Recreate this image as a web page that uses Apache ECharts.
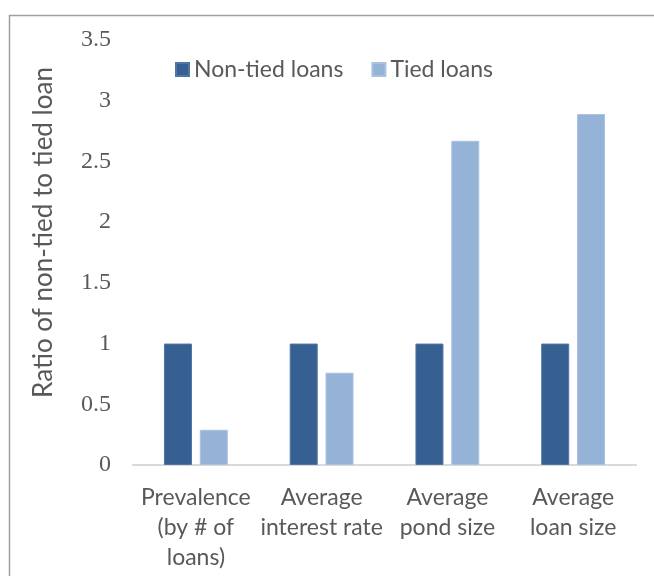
<!DOCTYPE html>
<html>
<head>
<meta charset="utf-8">
<script src="https://cdn.jsdelivr.net/npm/echarts@6/dist/echarts.min.js"></script>
<style>html,body{margin:0;padding:0;background:#fff;}#c{width:654px;height:576px;}</style>
</head>
<body>
<div id="c"></div>
<script>
const categories = ['Prevalence\n(by # of\nloans)', 'Average\ninterest rate', 'Average\npond size', 'Average\nloan size'];
const nonTied = [1, 1, 1, 1];
const tied = [0.29, 0.76, 2.67, 2.89];
const seriesNames = ['Non-tied loans', 'Tied loans'];

const chart = echarts.init(document.getElementById('c'));
chart.setOption({
  animation: false,
  backgroundColor: '#fff',
  graphic: [{
    type: 'rect', silent: true,
    shape: { x: 9.5, y: 15.5, width: 800, height: 800 },
    style: { fill: 'none', stroke: '#a0a0a0', lineWidth: 1.5 }
  }],
  legend: {
    left: 170, top: 53,
    itemWidth: 13, itemHeight: 13, itemGap: 28,
    icon: 'rect',
    textStyle: { color: '#595959', fontSize: 23, fontFamily: 'Lato' },
    data: seriesNames
  },
  grid: { left: 133, right: 18, top: 40, bottom: 111 },
  xAxis: {
    type: 'category', data: categories,
    axisLine: { lineStyle: { color: '#d9d9d9', width: 2 } },
    axisTick: { show: false },
    axisLabel: { color: '#595959', fontSize: 23, fontFamily: 'Lato', lineHeight: 30, margin: 18, interval: 0 }
  },
  yAxis: {
    type: 'value', min: 0, max: 3.5, interval: 0.5,
    name: 'Ratio of non-tied to tied loan',
    nameLocation: 'middle', nameGap: 76, nameRotate: 90,
    nameTextStyle: { color: '#595959', fontSize: 26, fontFamily: 'Lato', padding: [0, 0, 0, 40] },
    splitLine: { show: false },
    axisLine: { show: false }, axisTick: { show: false },
    axisLabel: { color: '#595959', fontSize: 24, fontFamily: 'Liberation Serif', margin: 22 }
  },
  series: [
    { name: seriesNames[0], type: 'bar', data: nonTied, barWidth: 28, barGap: '28%',
      itemStyle: { color: '#376092', borderColor: '#4f76a6', borderWidth: 1 } },
    { name: seriesNames[1], type: 'bar', data: tied, barWidth: 28,
      itemStyle: { color: '#95b3d7', borderColor: '#a9c2df', borderWidth: 1 } }
  ]
});
</script>
</body>
</html>
